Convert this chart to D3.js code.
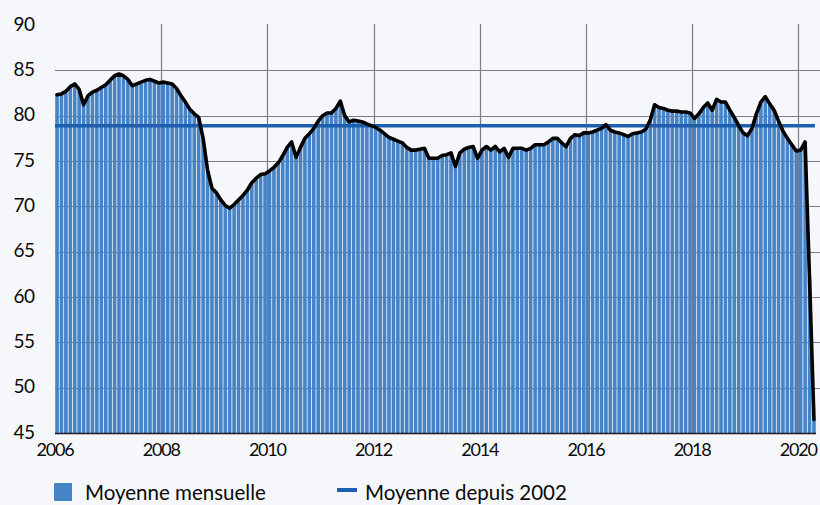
<!DOCTYPE html>
<html>
<head>
<meta charset="utf-8">
<script src="https://cdn.jsdelivr.net/npm/d3@7"></script>
<style>
  html, body { margin: 0; padding: 0; background: #f6f7fa; }
  svg { display: block; }
  text { font-family: Lato, "Open Sans", sans-serif; fill: #0a0a0a; }
</style>
</head>
<body>
<svg id="chart" width="820" height="505"></svg>
<script>
// ---- Data (monthly, Jan 2006 – Apr 2020) ----
const startYear = 2006;
const values2006 = [82.3, 82.4, 82.7, 83.2, 83.5, 82.9, 81.2, 82.2, 82.6, 82.8, 83.1, 83.4];
const values2007 = [83.9, 84.4, 84.6, 84.4, 84.0, 83.3, 83.5, 83.7, 83.9, 84.0, 83.8, 83.6];
const values2008 = [83.7, 83.6, 83.5, 83.0, 82.2, 81.5, 80.7, 80.2, 79.8, 77.5, 74.0, 72.0];
const values2009 = [71.5, 70.7, 70.1, 69.8, 70.2, 70.7, 71.2, 71.8, 72.6, 73.1, 73.5, 73.6];
const values2010 = [73.9, 74.3, 74.8, 75.6, 76.5, 77.1, 75.4, 76.5, 77.5, 78.0, 78.6, 79.4];
const values2011 = [80.0, 80.3, 80.3, 80.8, 81.6, 80.0, 79.3, 79.5, 79.4, 79.3, 79.1, 78.9];
const values2012 = [78.7, 78.4, 78.0, 77.6, 77.4, 77.2, 77.0, 76.5, 76.2, 76.2, 76.3, 76.4];
const values2013 = [75.3, 75.3, 75.3, 75.6, 75.7, 75.9, 74.4, 75.9, 76.3, 76.5, 76.6, 75.3];
const values2014 = [76.2, 76.6, 76.2, 76.6, 76.0, 76.4, 75.4, 76.4, 76.4, 76.4, 76.2, 76.4];
const values2015 = [76.8, 76.8, 76.8, 77.1, 77.5, 77.5, 77.0, 76.6, 77.5, 77.9, 77.8, 78.1];
const values2016 = [78.1, 78.2, 78.4, 78.6, 79.0, 78.4, 78.2, 78.1, 77.9, 77.7, 78.0, 78.1];
const values2017 = [78.2, 78.5, 79.5, 81.2, 80.9, 80.8, 80.6, 80.5, 80.5, 80.4, 80.4, 80.3];
const values2018 = [79.7, 80.2, 80.9, 81.4, 80.6, 81.8, 81.5, 81.5, 80.6, 79.8, 78.9, 78.1];
const values2019 = [77.8, 78.6, 80.2, 81.5, 82.1, 81.3, 80.6, 79.4, 78.3, 77.5, 76.8, 76.1];
const values2020 = [76.2, 77.1, 62.0, 46.5];

const monthlyValues = [].concat(values2006, values2007, values2008, values2009, values2010,
  values2011, values2012, values2013, values2014, values2015, values2016, values2017,
  values2018, values2019, values2020);
const months = monthlyValues.map((v, i) => `${startYear + Math.floor(i / 12)}-${String(i % 12 + 1).padStart(2, "0")}`);
const meanSince2002 = 78.9;

const yTicks = [45, 50, 55, 60, 65, 70, 75, 80, 85, 90];
const yGrid = [50, 55, 60, 65, 70, 75, 80, 85];
const xTickYears = [2006, 2008, 2010, 2012, 2014, 2016, 2018, 2020];
const xGridYears = [2008, 2010, 2012, 2014, 2016, 2018, 2020];
const legendLabels = ["Moyenne mensuelle", "Moyenne depuis 2002"];

// ---- Layout ----
const plotLeft = 55, plotRight = 816, plotTop = 25, plotBottom = 433;
const svg = d3.select("#chart");

const y = d3.scaleLinear().domain([45, 90]).range([plotBottom, plotTop]);
const xBand = d3.scaleBand().domain(months).range([plotLeft, plotRight]).paddingInner(0.18).paddingOuter(0.05);
const xYear = d3.scaleLinear().domain([startYear, startYear + months.length / 12]).range([plotLeft, plotRight]);

const barColor = "#4784c7";
const meanColor = "#1d5eae";
const gridColor = "#7d7d85";

// gridlines (behind bars)
const grid = svg.append("g");
grid.selectAll("line.h").data(yGrid).join("line")
  .attr("x1", plotLeft).attr("x2", 820)
  .attr("y1", d => Math.round(y(d)) + 0.5).attr("y2", d => Math.round(y(d)) + 0.5)
  .attr("stroke", gridColor).attr("stroke-width", 1.2);
grid.selectAll("line.v").data(xGridYears).join("line")
  .attr("x1", d => Math.round(xYear(d)) + 0.5).attr("x2", d => Math.round(xYear(d)) + 0.5)
  .attr("y1", plotTop - 1).attr("y2", plotBottom)
  .attr("stroke", gridColor).attr("stroke-width", 1.2);

// bars
svg.append("g").selectAll("rect").data(monthlyValues).join("rect")
  .attr("x", (d, i) => xBand(months[i]))
  .attr("width", xBand.bandwidth())
  .attr("y", d => y(d))
  .attr("height", d => plotBottom - y(d))
  .attr("fill", barColor);

// mean line
svg.append("line")
  .attr("x1", plotLeft).attr("x2", 815)
  .attr("y1", y(meanSince2002)).attr("y2", y(meanSince2002))
  .attr("stroke", meanColor).attr("stroke-width", 3.5);

// black line on top
const line = d3.line()
  .x((d, i) => xBand(months[i]) + xBand.bandwidth() / 2)
  .y(d => y(d));
svg.append("path").datum(monthlyValues)
  .attr("d", line)
  .attr("fill", "none").attr("stroke", "#000")
  .attr("stroke-width", 3.6).attr("stroke-linejoin", "round").attr("stroke-linecap", "round");

// baseline
svg.append("line").attr("x1", plotLeft).attr("x2", plotRight)
  .attr("y1", plotBottom + 0.5).attr("y2", plotBottom + 0.5)
  .attr("stroke", "#1a1a2a").attr("stroke-width", 1.5);

// y labels
svg.append("g").selectAll("text").data(yTicks).join("text")
  .attr("x", 24).attr("y", d => y(d) - 2)
  .attr("text-anchor", "middle").attr("dominant-baseline", "central")
  .attr("font-size", 19).attr("letter-spacing", -0.5)
  .text(d => d);

// x labels
svg.append("g").selectAll("text").data(xTickYears).join("text")
  .attr("x", d => xYear(d)).attr("y", 449)
  .attr("text-anchor", "middle").attr("dominant-baseline", "central")
  .attr("font-size", 18).attr("letter-spacing", -1.2)
  .text(d => d);

// legend
const lg = svg.append("g");
lg.append("rect").attr("x", 54).attr("y", 483).attr("width", 18).attr("height", 18).attr("fill", barColor);
lg.append("text").attr("x", 85).attr("y", 492).attr("dominant-baseline", "central")
  .attr("font-size", 20.5).text(legendLabels[0]);
lg.append("line").attr("x1", 337).attr("x2", 357).attr("y1", 490).attr("y2", 490)
  .attr("stroke", meanColor).attr("stroke-width", 4);
lg.append("text").attr("x", 365).attr("y", 492).attr("dominant-baseline", "central")
  .attr("font-size", 20.5).text(legendLabels[1]);
</script>
</body>
</html>
